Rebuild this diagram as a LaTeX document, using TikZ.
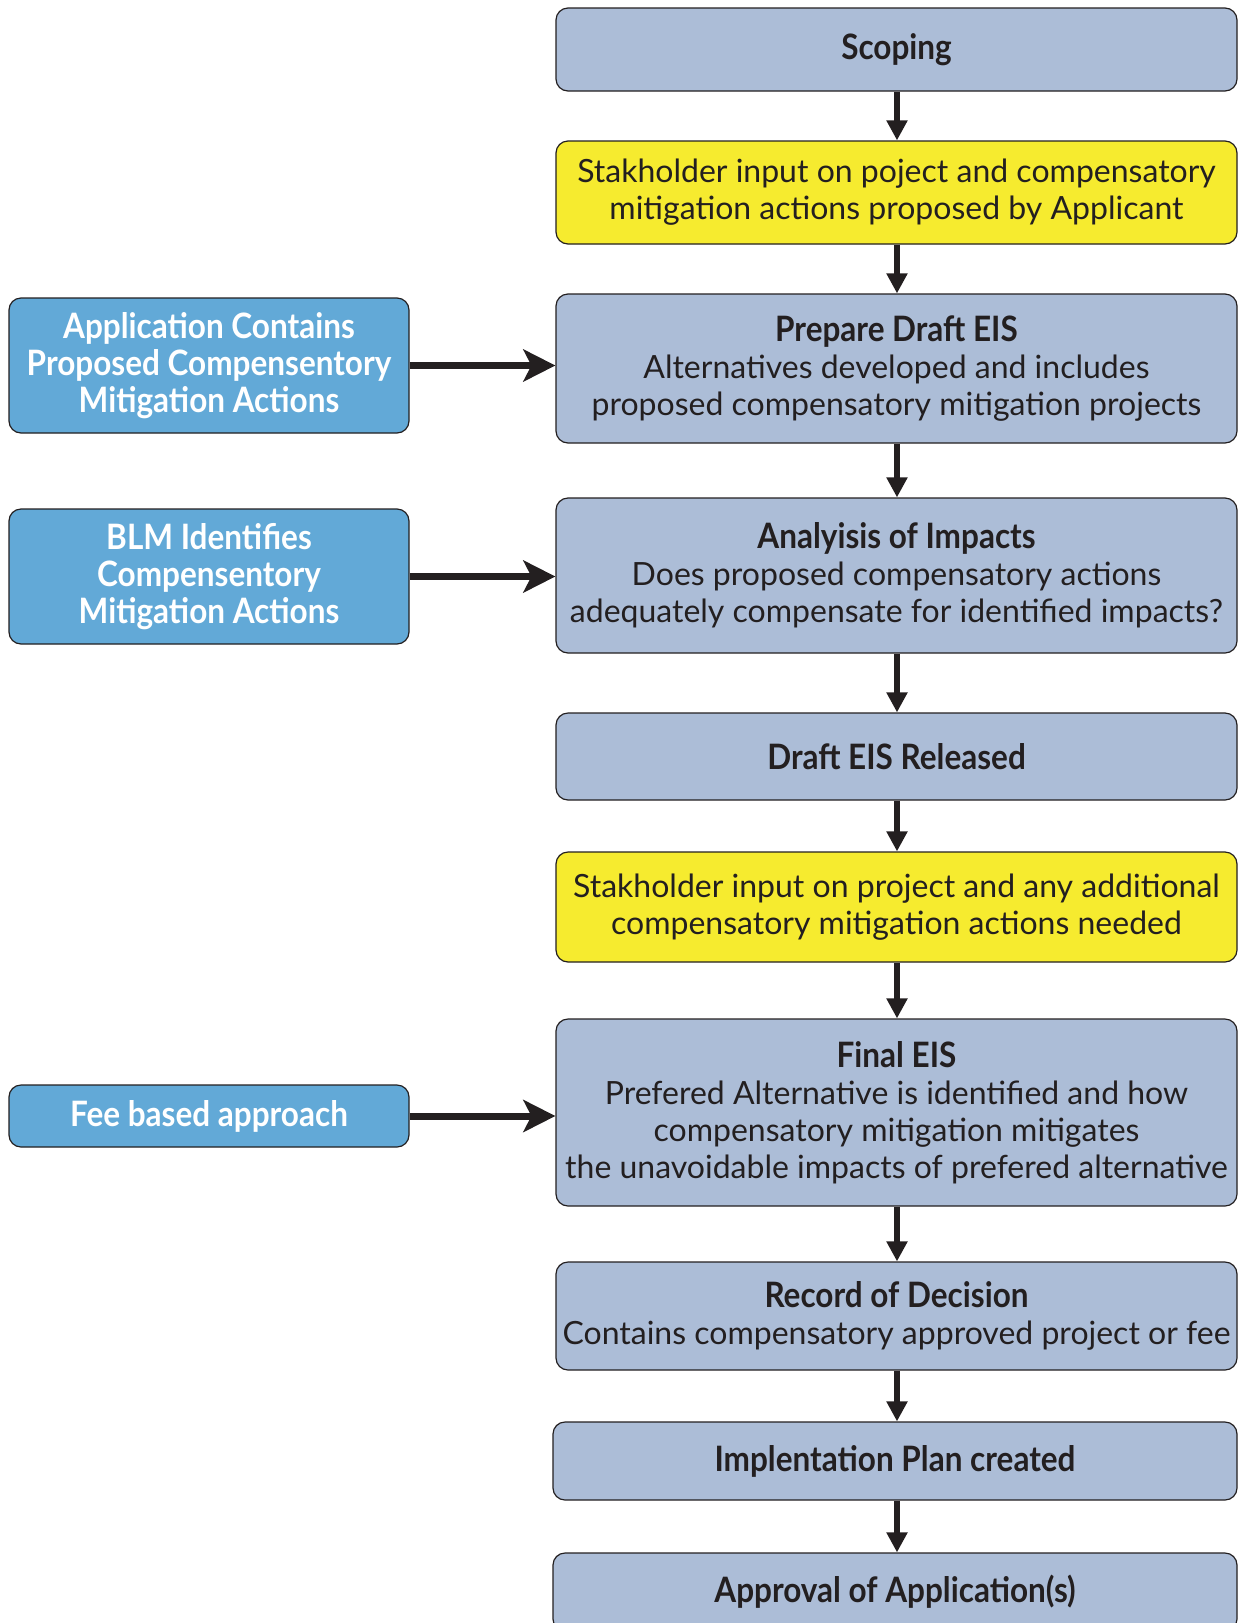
\documentclass[tikz,border=0pt]{standalone}
\usepackage{fontspec}
\setmainfont{Lato}
\newfontfamily\cfont[FakeStretch=0.9]{Lato}
\usetikzlibrary{arrows.meta}
\definecolor{boxgray}{HTML}{ACBDD7}
\definecolor{boxyellow}{HTML}{F6EB2F}
\definecolor{boxblue}{HTML}{62A9D7}
\definecolor{ink}{HTML}{231F20}
\begin{document}
\begin{tikzpicture}[x=1pt,y=-1pt,
  base/.style={draw=ink, line width=1.2pt, rounded corners=12pt, align=center, text=ink, inner sep=0pt,
    font=\fontsize{32}{37}\selectfont},
  mainbox/.style={base, fill=boxgray, minimum width=681pt},
  yellowbox/.style={base, fill=boxyellow, minimum width=681pt},
  sidebox/.style={base, fill=boxblue, minimum width=400pt, text=white, font=\fontsize{35}{37}\selectfont\cfont\bfseries},
  vflow/.style={draw=ink, line width=6pt, -{Triangle[length=20pt,width=20pt]}},
  hflow/.style={draw=ink, line width=7pt, -{Stealth[length=32pt,width=32pt,inset=8pt]}}
]
\useasboundingbox (0,0) rectangle (1238,1623);
\newcommand\hd[1]{{\fontsize{35}{37}\selectfont\cfont\bfseries #1}}

\node[mainbox, minimum height=83pt] (scoping) at (896.5,49.5) {\hd{Scoping}};
\node[yellowbox, minimum height=103pt] (stake1) at (896.5,192.5) {Stakholder input on poject and compensatory\\mitigation actions proposed by Applicant};
\node[mainbox, minimum height=149pt] (draft) at (896.5,368.5) {\hd{Prepare Draft EIS}\\Alternatives developed and includes\\proposed compensatory mitigation projects};
\node[mainbox, minimum height=155pt] (analysis) at (896.5,575.5) {\hd{Analyisis of Impacts}\\Does proposed compensatory actions\\adequately compensate for identified impacts?};
\node[mainbox, minimum height=87pt] (released) at (896.5,756.5) {\hd{Draft EIS Released}};
\node[yellowbox, minimum height=110pt] (stake2) at (896.5,907) {Stakholder input on project and any additional\\compensatory mitigation actions needed};
\node[mainbox, minimum height=187pt] (final) at (896.5,1112.5) {\hd{Final EIS}\\Prefered Alternative is identified and how\\compensatory mitigation mitigates\\the unavoidable impacts of prefered alternative};
\node[mainbox, minimum height=108pt] (record) at (896.5,1316) {\hd{Record of Decision}\\Contains compensatory approved project or fee};
\node[mainbox, minimum width=684pt, minimum height=78pt] (impl) at (895,1461) {\hd{Implentation Plan created}};
\node[mainbox, minimum width=684pt, minimum height=78pt] (approval) at (895,1592) {\hd{Approval of Application(s)}};

\node[sidebox, minimum height=135pt] (app) at (209,365.5) {Application Contains\\Proposed Compensentory\\Mitigation Actions};
\node[sidebox, minimum height=135pt] (blm) at (209,576.5) {BLM Identifies\\Compensentory\\Mitigation Actions};
\node[sidebox, minimum height=62pt] (fee) at (209,1116) {Fee based approach};

\draw[vflow] (scoping.south -| 897,0) -- (stake1.north -| 897,0);
\draw[vflow] (stake1.south -| 897,0) -- (draft.north -| 897,0);
\draw[vflow] (draft.south -| 897,0) -- (analysis.north -| 897,0);
\draw[vflow] (analysis.south -| 897,0) -- (released.north -| 897,0);
\draw[vflow] (released.south -| 897,0) -- (stake2.north -| 897,0);
\draw[vflow] (stake2.south -| 897,0) -- (final.north -| 897,0);
\draw[vflow] (final.south -| 897,0) -- (record.north -| 897,0);
\draw[vflow] (record.south -| 897,0) -- (impl.north -| 897,0);
\draw[vflow] (impl.south -| 897,0) -- (approval.north -| 897,0);

\draw[hflow] (app.east) -- (app.east -| draft.west);
\draw[hflow] (blm.east) -- (blm.east -| analysis.west);
\draw[hflow] (fee.east) -- (fee.east -| final.west);
\end{tikzpicture}
\end{document}
